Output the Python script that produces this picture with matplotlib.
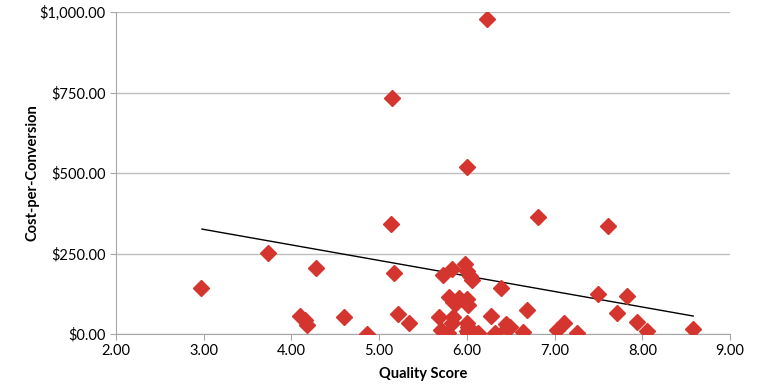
import numpy as np
import matplotlib
matplotlib.use("Agg")
import matplotlib.pyplot as plt
from matplotlib.ticker import FuncFormatter

plt.rcParams['font.family'] = ['Lato', 'DejaVu Sans']

# quality score vs cost-per-conversion
quality = [2.97, 3.73, 4.28, 4.10, 4.15, 4.18, 4.60, 4.86, 5.15, 5.14, 5.17, 5.22, 5.34,
           6.23, 6.00, 6.81, 7.61,
           5.73, 5.83, 5.98, 6.00, 6.04, 6.06, 6.39, 5.80, 5.84, 5.88, 5.91, 6.00, 6.01,
           5.68, 5.84, 5.83, 6.28, 6.69, 6.00, 6.01, 5.71, 5.79, 6.00, 6.01, 6.13, 6.32,
           6.45, 6.46, 6.49, 6.64, 7.03, 7.11, 7.26, 7.50,
           7.82, 7.71, 7.94, 8.05, 8.58]
cost = [143, 252, 205, 56, 45, 28, 53, 0, 733, 342, 190, 62, 34,
        978, 519, 363, 335,
        183, 202, 217, 196, 180, 168, 143, 115, 100, 96, 112, 109, 90,
        53, 53, 34, 56, 75, 34, 22, 12, 3, 9, 3, 3, 3,
        31, 19, 22, 6, 12, 34, 3, 124,
        118, 65, 37, 9, 16]

# trendline as drawn in the reference (end points)
trend_x = [2.98, 8.58]
trend_y = [326, 56]

xticks = [2, 3, 4, 5, 6, 7, 8, 9]
yticks = [0, 250, 500, 750, 1000]

fig = plt.figure(figsize=(7.6, 3.88), dpi=100)
ax = fig.add_axes([0.1526, 0.139, 0.808, 0.830])

ax.plot(quality, cost, linestyle="none", marker="D", markersize=8,
        color="#D5352F", markeredgecolor="#D5352F", zorder=3)
ax.plot(trend_x, trend_y, color="black", linewidth=1, zorder=2)

ax.set_xlim(2, 9)
ax.set_ylim(0, 1000)
ax.set_xticks(xticks)
ax.set_yticks(yticks)
ax.xaxis.set_major_formatter(FuncFormatter(lambda v, p: "%.2f" % v))
ax.yaxis.set_major_formatter(FuncFormatter(lambda v, p: "${:,.2f}".format(v)))

ax.grid(axis="y", color="#BFBFBF", linewidth=1)
ax.set_axisbelow(True)
for s in ["top", "right"]:
    ax.spines[s].set_visible(False)
for s in ["left", "bottom"]:
    ax.spines[s].set_color("#A6A6A6")
ax.tick_params(axis="both", colors="#A6A6A6", labelcolor="black", labelsize=10.5, length=4)

ax.set_xlabel("Quality Score", fontsize=10.5, fontweight="bold", labelpad=6)
ax.set_ylabel("Cost-per-Conversion", fontsize=10.5, fontweight="bold")
ax.yaxis.set_label_coords(-0.125, 0.5)

fig.savefig("out.png", dpi=100)
